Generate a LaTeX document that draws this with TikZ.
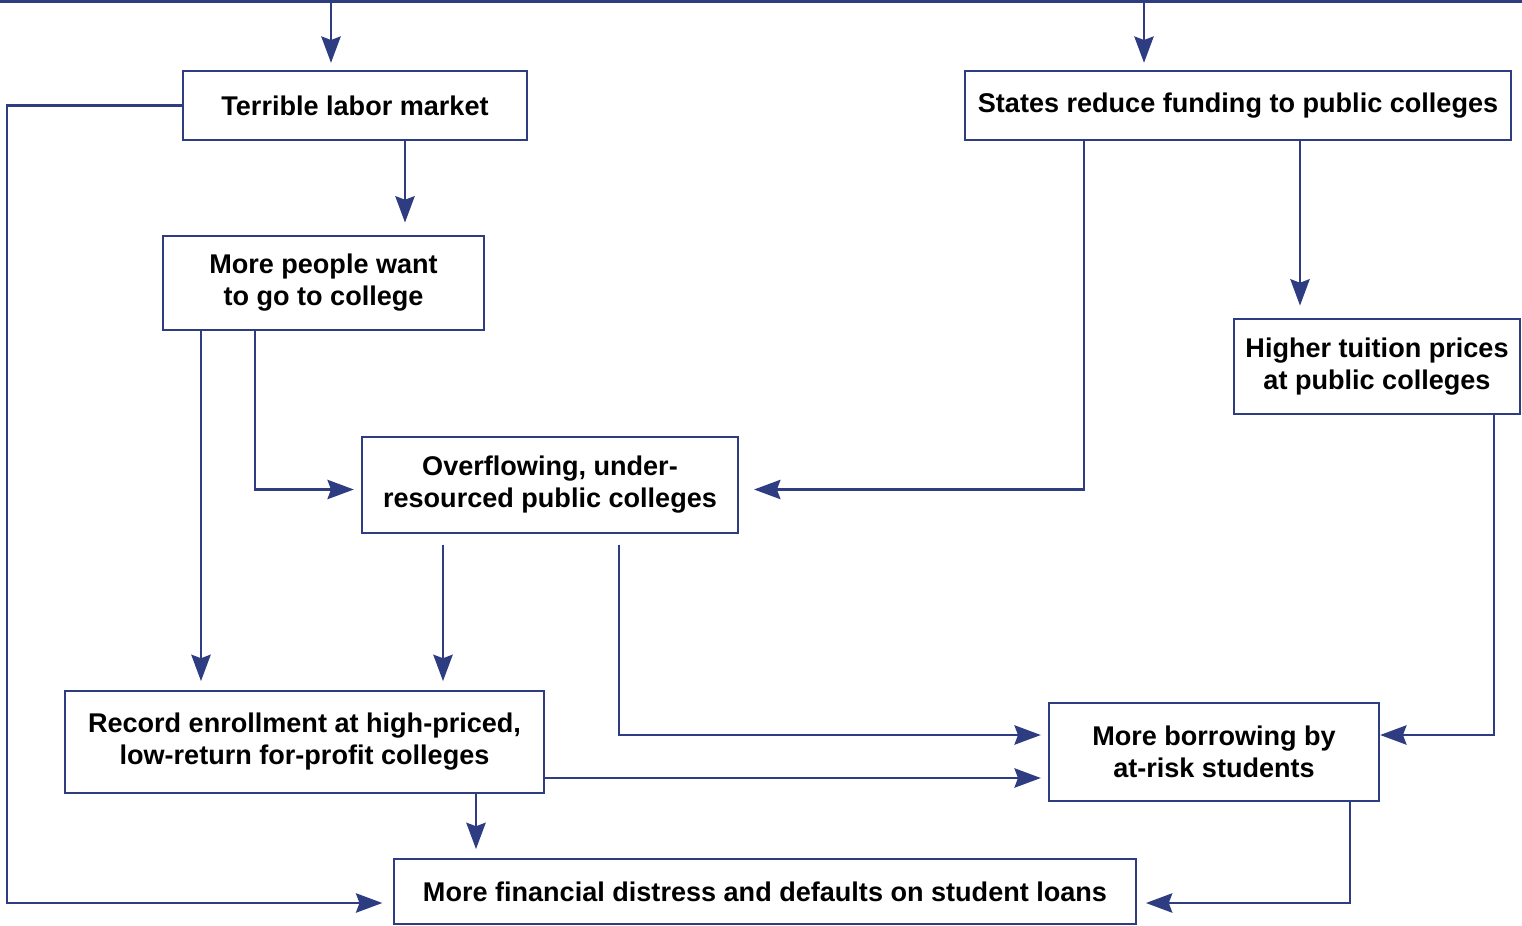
\documentclass[tikz,border=0pt]{standalone}
\usepackage{fontspec}
\setmainfont{Liberation Sans}
\usetikzlibrary{arrows.meta,calc}
\definecolor{navy}{RGB}{46,61,130}
\tikzset{
    box/.style={draw=navy, line width=1.3pt, align=center, inner sep=0pt, font=\fontsize{15.4}{18.2}\selectfont\bfseries},
    arr/.style={draw=navy, line width=1.4pt, -{Stealth[length=15pt,width=11pt,inset=2pt]}, shorten >=4pt},
}
\begin{document}
\begin{tikzpicture}[x=0.02cm,y=-0.02cm]
        \useasboundingbox (0,0) rectangle (1522,926);
        \foreach \x/\y/\w/\h/\n/\l in {355/105.5/344/69/labor/{Terrible labor market},1238/105.5/546/69/states/{States reduce funding to public colleges},323.5/283/321/94/want/{More people want\\to go to college},1377/366.5/286/95/higher/{Higher tuition prices\\at public colleges},550/485/376/96/over/{Overflowing, under-\\resourced public colleges},304.5/742/479/102/record/{Record enrollment at high-priced,\\low-return for-profit colleges},1214/752/330/98/borrow/{More borrowing by\\at-risk students},765/891.5/742/65/distress/{More financial distress and defaults on student loans}}{
            \node[box, minimum width=\w*0.02cm, minimum height=\h*0.02cm] (\n) at (\x,\y) {\l};
        }
        \coordinate (tl) at (0,1.5);
        \coordinate (tr) at (1522,1.5);
        \coordinate (ta) at (331,1.5);
        \coordinate (tb) at (1144,1.5);
        \draw[navy, line width=1.4pt] (tl) -- (tr);
        \draw[arr] (ta) -- (ta |- labor.north);
        \draw[arr] (tb) -- (tb |- states.north);
        \draw[arr, shorten >=6pt] (labor.west) -- ++(-175,0) |- ($(distress.west)+(0,11.5)$);
        \draw[arr, shorten >=7pt] (labor.south -| 405,0) -- (want.north -| 405,0);
        \draw[arr, shorten >=5pt] (want.south -| 201,0) -- (record.north -| 201,0);
        \draw[arr] (want.south -| 255,0) |- ($(over.west)+(0,4.5)$);
        \draw[arr, shorten >=8.5pt] (states.south -| 1084,0) |- ($(over.east)+(0,4.5)$);
        \draw[arr, shorten >=7pt] (states.south -| 1300,0) -- (higher.north -| 1300,0);
        \draw[arr, shorten >=0pt] (higher.south -| 1494,0) |- ($(borrow.east)+(0,-17)$);
        \draw[arr, shorten <=6pt, shorten >=5pt] (over.south -| 443,0) -- (record.north -| 443,0);
        \draw[arr, shorten <=6pt] (over.south -| 619,0) |- ($(borrow.west)+(0,-17)$);
        \draw[arr] (record.east |- 0,778) -- (borrow.west |- 0,778);
        \draw[arr, shorten >=5pt] (record.south -| 476,0) -- (distress.north -| 476,0);
        \draw[arr, shorten >=5pt] (borrow.south -| 1350,0) |- ($(distress.east)+(0,11.5)$);
    \end{tikzpicture}
\end{document}
